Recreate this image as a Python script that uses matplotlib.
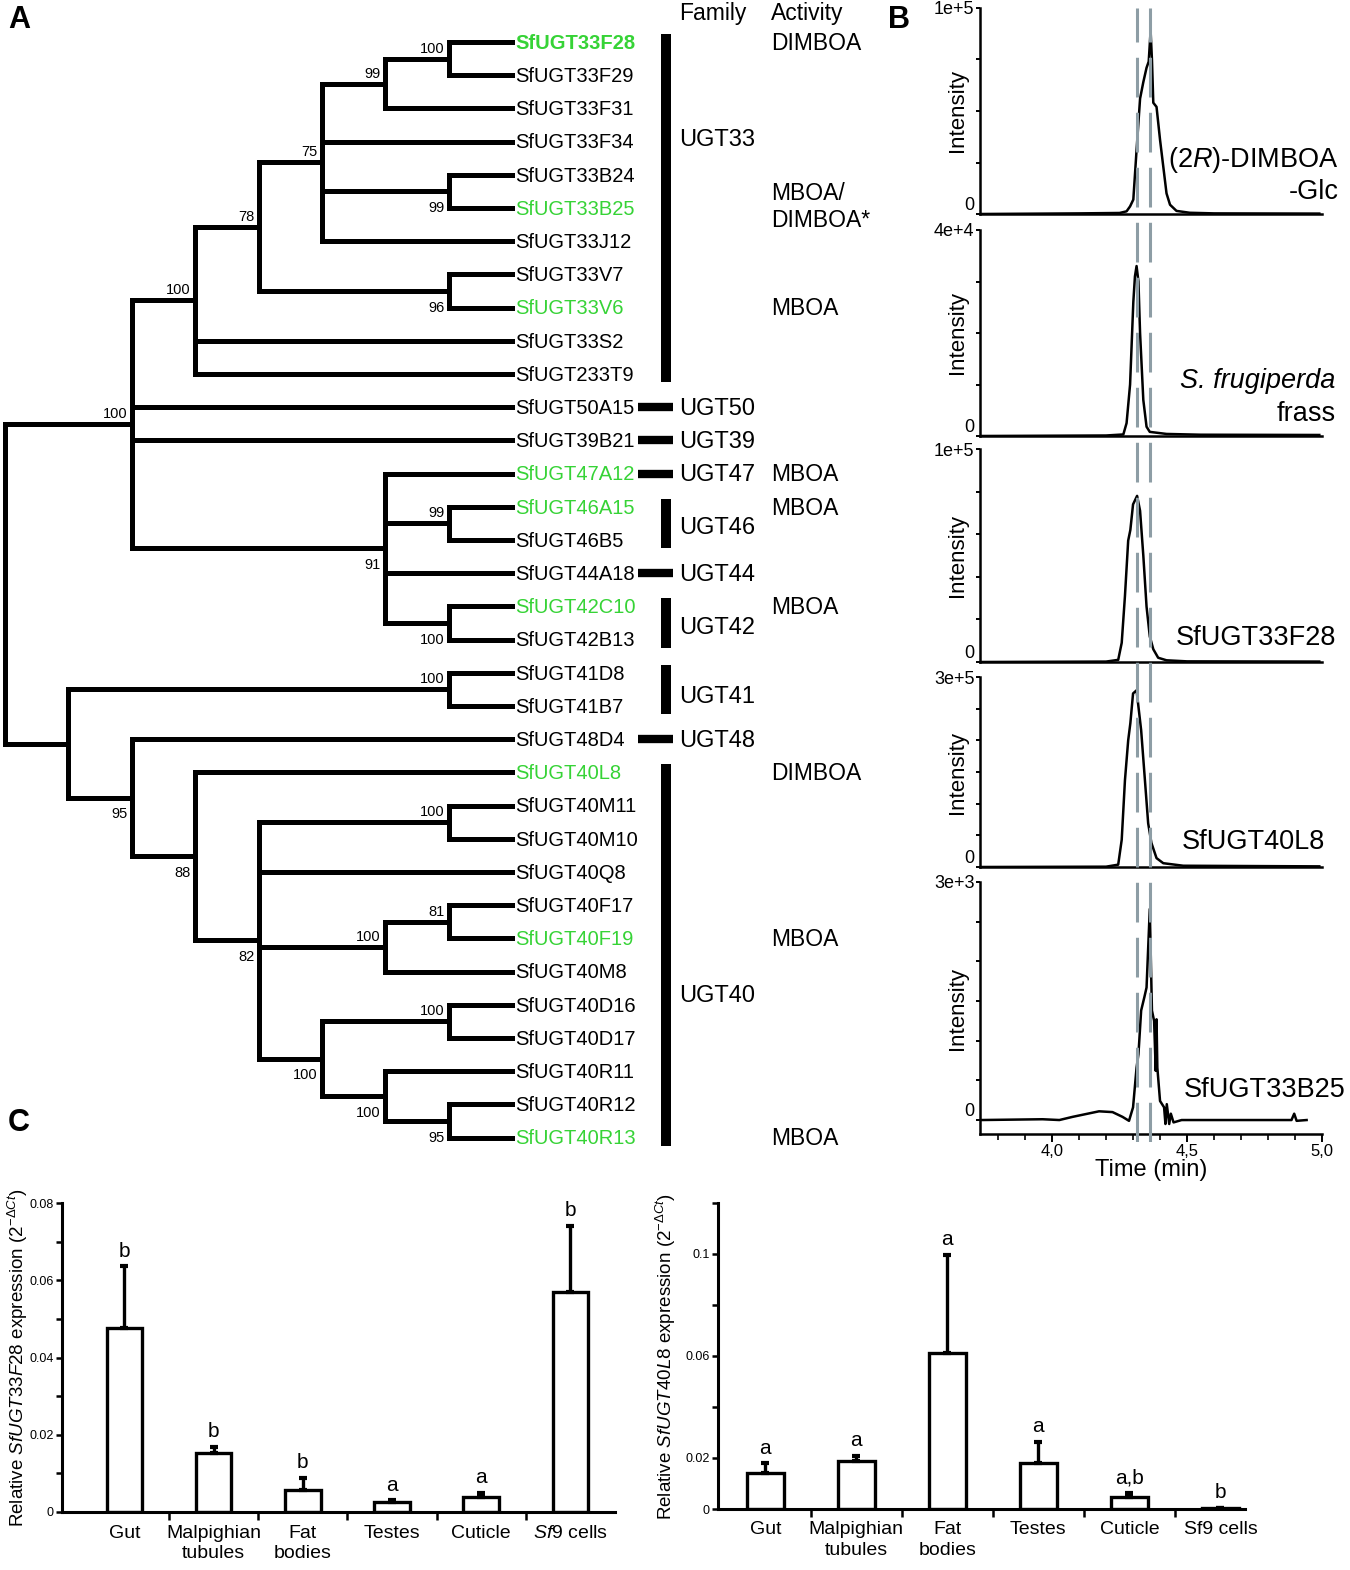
import matplotlib
matplotlib.use('Agg')
import matplotlib.pyplot as plt
from matplotlib.ticker import FixedLocator, MultipleLocator

plt.rcParams['font.family'] = ['Liberation Sans', 'DejaVu Sans']
plt.rcParams['mathtext.fontset'] = 'custom'
plt.rcParams['mathtext.rm'] = 'Liberation Sans'
plt.rcParams['mathtext.it'] = 'Liberation Sans:italic'
plt.rcParams['mathtext.bf'] = 'Liberation Sans:bold'

W, H = 1350, 1570
GREEN = '#36d336'
DASH_COLOR = '#8d9da5'

# ---------------- panel A data ----------------
LEAVES = ['SfUGT33F28', 'SfUGT33F29', 'SfUGT33F31', 'SfUGT33F34', 'SfUGT33B24',
          'SfUGT33B25', 'SfUGT33J12', 'SfUGT33V7', 'SfUGT33V6', 'SfUGT33S2',
          'SfUGT233T9', 'SfUGT50A15', 'SfUGT39B21', 'SfUGT47A12', 'SfUGT46A15',
          'SfUGT46B5', 'SfUGT44A18', 'SfUGT42C10', 'SfUGT42B13', 'SfUGT41D8',
          'SfUGT41B7', 'SfUGT48D4', 'SfUGT40L8', 'SfUGT40M11', 'SfUGT40M10',
          'SfUGT40Q8', 'SfUGT40F17', 'SfUGT40F19', 'SfUGT40M8', 'SfUGT40D16',
          'SfUGT40D17', 'SfUGT40R11', 'SfUGT40R12', 'SfUGT40R13']
GREEN_LEAVES = [0, 5, 8, 13, 14, 17, 22, 27, 33]
LEAF_LEVEL = 8

# (name, level, bootstrap, label side, children)  ints are leaf indices
TREE = ('root', 0, None, None, [
    ('A', 2, '100', 'above', [
        ('B', 3, '100', 'above', [
            ('C', 4, '78', 'above', [
                ('D', 5, '75', 'above', [
                    ('E', 6, '99', 'above', [('F', 7, '100', 'above', [0, 1]), 2]),
                    3,
                    ('G', 7, '99', 'below', [4, 5]),
                    6]),
                ('H', 7, '96', 'below', [7, 8])]),
            9, 10]),
        11, 12,
        ('I', 6, '91', 'below', [13, ('J', 7, '99', 'above', [14, 15]), 16,
                                 ('K', 7, '100', 'below', [17, 18])])]),
    ('L', 1, None, None, [
        ('M', 7, '100', 'above', [19, 20]),
        ('N', 2, '95', 'below', [
            21,
            ('O', 3, '88', 'below', [
                22,
                ('P', 4, '82', 'below', [
                    ('Q', 7, '100', 'above', [23, 24]),
                    25,
                    ('R', 6, '100', 'above', [('S', 7, '81', 'above', [26, 27]), 28]),
                    ('T', 5, '100', 'below', [
                        ('U', 7, '100', 'above', [29, 30]),
                        ('V', 6, '100', 'below', [31, ('W', 7, '95', 'below', [32, 33])])])])])])])])

# family name, first leaf, last leaf, label row
FAMILIES = [('UGT33', 0, 10, 2.9), ('UGT50', 11, 11, 11), ('UGT39', 12, 12, 12),
            ('UGT47', 13, 13, 13), ('UGT46', 14, 15, 14.6), ('UGT44', 16, 16, 16),
            ('UGT42', 17, 18, 17.6), ('UGT41', 19, 20, 19.7), ('UGT48', 21, 21, 21),
            ('UGT40', 22, 33, 28.7)]
ACTIVITY_ROWS = [0, 4.93, 8, 13, 14, 17, 22, 27, 33]
ACTIVITY_TEXT = ['DIMBOA', 'MBOA/\nDIMBOA*', 'MBOA', 'MBOA', 'MBOA', 'MBOA',
                 'DIMBOA', 'MBOA', 'MBOA']

# ---------------- panel B data ----------------
T_STD = [3.733, 4.10, 4.25, 4.276, 4.289, 4.301, 4.313, 4.326, 4.338, 4.350, 4.358,
         4.365, 4.370, 4.375, 4.387, 4.400, 4.412, 4.424, 4.437, 4.461, 4.51, 4.6, 4.99]
I_STD = [0, 300, 500, 1300, 3700, 7000, 31000, 56000, 64000, 71000, 74000,
         89000, 75000, 54000, 52000, 36000, 23000, 10000, 4500, 1500, 600, 300, 200]

T_FRASS = [3.733, 4.20, 4.264, 4.276, 4.289, 4.301, 4.307, 4.313, 4.320, 4.326,
           4.338, 4.350, 4.362, 4.424, 4.55, 4.99]
I_FRASS = [0, 100, 300, 2500, 10000, 26000, 31000, 33000, 30000, 20000,
           7000, 1800, 800, 400, 250, 200]

T_F28 = [3.733, 4.20, 4.245, 4.258, 4.270, 4.282, 4.290, 4.300, 4.315, 4.326,
         4.338, 4.350, 4.362, 4.375, 4.393, 4.424, 4.50, 4.99]
I_F28 = [0, 200, 1000, 9000, 31000, 57000, 62000, 74000, 78000, 71000,
         50000, 26000, 12000, 6000, 2000, 800, 300, 200]

T_L8 = [3.733, 4.20, 4.245, 4.258, 4.270, 4.282, 4.290, 4.300, 4.313, 4.323,
        4.330, 4.344, 4.356, 4.368, 4.387, 4.412, 4.486, 4.99]
I_L8 = [0, 500, 3700, 43000, 137000, 200000, 227000, 274000, 279000, 242000,
        216000, 137000, 69000, 38000, 14000, 6000, 2000, 1000]

T_B25 = [3.736, 3.965, 4.027, 4.076, 4.174, 4.224, 4.261, 4.285, 4.300, 4.313,
         4.320, 4.330, 4.342, 4.350, 4.362, 4.370, 4.378, 4.384, 4.387, 4.390,
         4.400, 4.415, 4.420, 4.425, 4.434, 4.440, 4.450, 4.480, 4.665, 4.887,
         4.897, 4.906, 4.943]
I_B25 = [0, 10, 0, 40, 110, 100, 40, -10, 160, 660,
         830, 1380, 1550, 1670, 2660, 1380, 1250, 620, 1270, 660,
         240, 160, -50, 200, -50, 80, -30, 0, 0, 0,
         80, -10, 0]

DASH_TIMES = [4.314, 4.363]

# ---------------- panel C data ----------------
TISSUES = ['Gut', 'Malpighian\ntubules', 'Fat\nbodies', 'Testes', 'Cuticle', 'Sf9 cells']
F28_MEAN = [0.0477, 0.0153, 0.0058, 0.0027, 0.0040, 0.0570]
F28_SE = [0.0159, 0.0015, 0.0031, 0.0003, 0.0010, 0.0170]
F28_LETTERS = ['b', 'b', 'b', 'a', 'a', 'b']
L8_MEAN = [0.0140, 0.0188, 0.0610, 0.0182, 0.0049, 0.0003]
L8_SE = [0.0039, 0.0021, 0.0386, 0.0081, 0.0012, 0.0002]
L8_LETTERS = ['a', 'a', 'a', 'a', 'a,b', 'b']


def px_box(x0, y0, x1, y1):
    return [x0 / W, 1 - y1 / H, (x1 - x0) / W, (y1 - y0) / H]


def draw_node(ax, node):
    name, level, support, side, children = node
    ys = []
    for child in children:
        if isinstance(child, int):
            cx, cy = LEAF_LEVEL, child
        else:
            cx, cy = child[1], draw_node(ax, child)
        ax.plot([level, cx], [cy, cy], color='black', lw=3.6,
                solid_capstyle='projecting')
        ys.append(cy)
    ax.plot([level, level], [ys[0], ys[-1]], color='black', lw=3.6,
            solid_capstyle='projecting')
    y = (ys[0] + ys[-1]) / 2
    if support:
        dy = -0.3 if side == 'above' else 0.5
        ax.text(level - 0.07, y + dy, support, ha='right', va='center',
                fontsize=10.5)
    return y


def plot_tree(fig):
    ax = fig.add_axes(px_box(0, 0, 900, 1160))
    ax.set_xlim(-5 / 63.4, 895 / 63.4)
    ax.set_ylim(1118 / 33.2, -42 / 33.2)
    ax.axis('off')
    draw_node(ax, TREE)

    for i, name in enumerate(LEAVES):
        green = i in GREEN_LEAVES
        ax.text(8.044, i + 0.04, name, ha='left', va='center', fontsize=14.5,
                color=GREEN if green else 'black',
                fontweight='bold' if i == 0 else 'normal')

    for fam, first, last, row in FAMILIES:
        if first == last:
            ax.plot([9.984, 10.536], [first, first], color='black', lw=6,
                    solid_capstyle='butt')
        else:
            ax.plot([10.426, 10.426], [first - 0.25, last + 0.25], color='black',
                    lw=7.2, solid_capstyle='butt')
        ax.text(10.63, row + 0.04, fam, ha='left', va='center', fontsize=17)

    for row, act in zip(ACTIVITY_ROWS, ACTIVITY_TEXT):
        ax.text(12.08, row + 0.04, act, ha='left', va='center', fontsize=16.5,
                linespacing=1.2)

    ax.text(10.63, -0.87, 'Family', ha='left', va='center', fontsize=16.5)
    ax.text(12.08, -0.87, 'Activity', ha='left', va='center', fontsize=16.5)


def style_chrom(ax, ylim, ticks, top_label, last=False):
    ax.set_xlim(3.733, 5.0)
    ax.set_ylim(*ylim)
    for s in ['top', 'right']:
        ax.spines[s].set_visible(False)
    for s in ['left', 'bottom']:
        ax.spines[s].set_linewidth(1.8)
    ax.yaxis.set_major_locator(FixedLocator(ticks))
    labels = ax.set_yticklabels(['0'] + [''] * (len(ticks) - 2) + [top_label])
    labels[0].set_verticalalignment('bottom')
    ax.tick_params(axis='y', direction='out', length=3, width=1.4, pad=1,
                   labelsize=13)
    ax.set_ylabel('Intensity', fontsize=16)
    ax.yaxis.set_label_coords(-0.036, 0.5)
    if last:
        ax.xaxis.set_major_locator(FixedLocator([4.0, 4.5, 5.0]))
        ax.xaxis.set_minor_locator(MultipleLocator(0.1))
        ax.set_xticklabels(['4,0', '4,5', '5,0'])
        ax.tick_params(axis='x', which='major', direction='out', length=6,
                       width=1.4, labelsize=12, pad=1)
        ax.tick_params(axis='x', which='minor', direction='out', length=4,
                       width=1.2)
        ax.set_xlabel('Time (min)', fontsize=17, labelpad=0)
    else:
        ax.set_xticks([])


def plot_chromatograms(fig):
    boxes = [(8, 214), (230, 436), (449, 662), (677, 867), (882, 1134)]
    series = [(T_STD, I_STD, (0, 1e5), [0, 2.5e4, 5e4, 7.5e4, 1e5], '1e+5'),
              (T_FRASS, I_FRASS, (0, 4e4), [0, 1e4, 2e4, 3e4, 4e4], '4e+4'),
              (T_F28, I_F28, (0, 1e5), [0, 2e4, 4e4, 6e4, 8e4, 1e5], '1e+5'),
              (T_L8, I_L8, (0, 3e5), [0, 5e4, 1e5, 1.5e5, 2e5, 2.5e5, 3e5], '3e+5'),
              (T_B25, I_B25, (-176, 3e3), [0, 500, 1000, 1500, 2000, 2500, 3000], '3e+3')]
    axes = []
    for k, ((top, bot), (t, y, ylim, ticks, lab)) in enumerate(zip(boxes, series)):
        ax = fig.add_axes(px_box(980, top, 1322, bot))
        ax.plot(t, y, color='black', lw=1.8)
        style_chrom(ax, ylim, ticks, lab, last=(k == 4))
        axes.append(ax)

    tr = {'ha': 'right', 'va': 'center', 'fontsize': 19.5}
    axes[0].text(1.05, 0.262, r'(2$\mathit{R}$)-DIMBOA', transform=axes[0].transAxes, **tr)
    axes[0].text(1.05, 0.107, '-Glc', transform=axes[0].transAxes, **tr)
    axes[1].text(1.04, 0.267, 'S. frugiperda', style='italic',
                 transform=axes[1].transAxes, **tr)
    axes[1].text(1.04, 0.107, 'frass', transform=axes[1].transAxes, **tr)
    axes[2].text(1.04, 0.113, 'SfUGT33F28', transform=axes[2].transAxes, **tr)
    axes[3].text(1.009, 0.13, 'SfUGT40L8', transform=axes[3].transAxes, **tr)
    axes[4].text(1.07, 0.175, 'SfUGT33B25', transform=axes[4].transAxes, **tr)

    over = fig.add_axes(px_box(980, 8, 1322, 1142))
    over.set_xlim(3.733, 5.0)
    over.set_ylim(0, 1)
    over.axis('off')
    for t in DASH_TIMES:
        over.axvline(t, color=DASH_COLOR, lw=2.2, dashes=(13, 5))


def plot_bars(fig, box, means, errs, letters, ylim, major, labels, minor,
              ylabel, xlim, label_x, width, italic_sf):
    ax = fig.add_axes(px_box(*box))
    x = list(range(len(TISSUES)))
    ax.bar(x, means, width=width, color='white', edgecolor='black', linewidth=2.4,
           zorder=2)
    ax.errorbar(x, means, yerr=[[0] * len(errs), errs], fmt='none', ecolor='black',
                elinewidth=2.4, capsize=3, capthick=3, zorder=3)
    for xi, m, e, let in zip(x, means, errs, letters):
        ax.annotate(let, (xi, m + e), xytext=(0, 7), textcoords='offset points',
                    ha='center', va='baseline', fontsize=15)
    ax.set_xlim(*xlim)
    ax.set_ylim(*ylim)
    for s in ['top', 'right']:
        ax.spines[s].set_visible(False)
    for s in ['left', 'bottom']:
        ax.spines[s].set_linewidth(2.2)
    ax.yaxis.set_major_locator(FixedLocator(major))
    ax.set_yticklabels(labels)
    if minor:
        ax.yaxis.set_minor_locator(FixedLocator(minor))
    ax.tick_params(axis='y', which='both', direction='out', length=4, width=1.8,
                   labelsize=9, pad=2)
    ax.xaxis.set_major_locator(FixedLocator(x))
    ax.xaxis.set_minor_locator(FixedLocator([i + 0.5 for i in x[:-1]]))
    names = list(TISSUES)
    if italic_sf:
        names[-1] = r'$\mathit{Sf}$9 cells'
    ax.set_xticklabels(names, linespacing=1.3)
    ax.tick_params(axis='x', which='major', length=0, labelsize=14, pad=9)
    ax.tick_params(axis='x', which='minor', direction='out', length=6, width=1.8)
    ax.set_ylabel(ylabel, fontsize=13.5)
    ax.yaxis.set_label_coords(label_x, 0.5)
    return ax


def main():
    fig = plt.figure(figsize=(W / 100, H / 100), dpi=100)

    plot_tree(fig)
    plot_chromatograms(fig)

    plot_bars(fig, (62, 1203, 615, 1512), F28_MEAN, F28_SE, F28_LETTERS,
              (0, 0.08), [0, 0.02, 0.04, 0.06, 0.08],
              ['0', '0.02', '0.04', '0.06', '0.08'], [0.01, 0.03, 0.05, 0.07],
              r'Relative $\mathit{SfUGT33F28}$ expression (2$^{-\Delta Ct}$)',
              (-0.7, 5.5), -0.058, 0.4, True)
    plot_bars(fig, (718, 1203, 1245, 1509), L8_MEAN, L8_SE, L8_LETTERS,
              (0, 0.12), [0, 0.02, 0.04, 0.06, 0.08, 0.1, 0.12],
              ['0', '0.02', '', '0.06', '', '0.1', ''], None,
              r'Relative $\mathit{SfUGT40L8}$ expression (2$^{-\Delta Ct}$)',
              (-0.52, 5.27), -0.075, 0.4, False)

    fig.text(8 / W, 1 - 20 / H, 'A', fontsize=22, fontweight='bold', va='center')
    fig.text(888 / W, 1 - 20 / H, 'B', fontsize=22, fontweight='bold', va='center')
    fig.text(8 / W, 1 - 1123 / H, 'C', fontsize=22, fontweight='bold', va='center')

    fig.savefig('out.png', dpi=100)


if __name__ == '__main__':
    main()
